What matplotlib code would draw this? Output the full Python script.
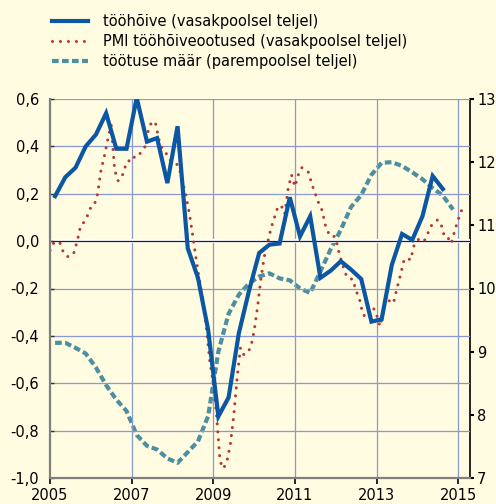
import matplotlib
matplotlib.use("Agg")
import matplotlib.pyplot as plt
from matplotlib.ticker import FuncFormatter, MultipleLocator
import numpy as np

# employment (left axis), quarterly, first quarter centred on 2005.125
emp_start, emp_step = 2005.125, 0.25
employment = [0.19, 0.27, 0.31, 0.40, 0.45, 0.54, 0.39, 0.39, 0.605, 0.42,
              0.435, 0.245, 0.485, -0.03, -0.155, -0.375, -0.74, -0.66, -0.39, -0.21,
              -0.05, -0.015, -0.01, 0.185, 0.02, 0.105, -0.155, -0.125, -0.085, -0.12,
              -0.16, -0.34, -0.33, -0.10, 0.03, 0.005, 0.105, 0.275, 0.22]

# PMI employment expectations (left axis), monthly from Jan 2005
pmi_start, pmi_step = 2005.0, 1 / 12
pmi = [-0.04, -0.01, 0.0, -0.01, -0.05, -0.065, -0.065, -0.05, 0.0, 0.065,
       0.08, 0.107, 0.143, 0.152, 0.20, 0.30, 0.36, 0.43, 0.49, 0.30,
       0.255, 0.265, 0.31, 0.34, 0.335, 0.36, 0.36, 0.38, 0.40, 0.476,
       0.505, 0.50, 0.43, 0.39, 0.375, 0.345, 0.335, 0.33, 0.31, 0.25,
       0.19, 0.115, 0.02, -0.08, -0.17, -0.26, -0.37, -0.51, -0.60, -0.74,
       -0.93, -0.96, -0.93, -0.86, -0.74, -0.58, -0.45, -0.48, -0.47, -0.45,
       -0.38, -0.28, -0.16, -0.065, -0.005, 0.055, 0.10, 0.145, 0.15, 0.115,
       0.22, 0.28, 0.23, 0.28, 0.31, 0.305, 0.29, 0.24, 0.20, 0.16,
       0.13, 0.065, 0.03, 0.03, 0.01, -0.05, -0.10, -0.14, -0.16, -0.16,
       -0.21, -0.245, -0.31, -0.32, -0.30, -0.28, -0.31, -0.36, -0.30, -0.23,
       -0.26, -0.26, -0.20, -0.145, -0.085, -0.07, -0.08, -0.02, 0.005, 0.01,
       0.0, 0.03, 0.063, 0.08, 0.09, 0.07, 0.017, 0.014, -0.01, 0.045,
       0.09, 0.13]

# unemployment rate (right axis), quarterly
unemp_start, unemp_step = 2005.125, 0.25
unemployment = [9.14, 9.14, 9.06, 8.97, 8.75, 8.47, 8.24, 8.06, 7.68, 7.51,
                7.45, 7.31, 7.24, 7.41, 7.58, 7.98, 9.0, 9.6, 9.9, 10.08,
                10.19, 10.24, 10.16, 10.13, 10.0, 9.93, 10.27, 10.62, 10.93, 11.29,
                11.48, 11.80, 11.99, 12.0, 11.94, 11.84, 11.73, 11.59, 11.47, 11.25]

labels = ["tööhõive (vasakpoolsel teljel)",
          "PMI tööhõiveootused (vasakpoolsel teljel)",
          "töötuse määr (parempoolsel teljel)"]
year_ticks = [2005, 2007, 2009, 2011, 2013, 2015]

bg = "#FFFCE1"
blue = "#0B57A4"
red = "#B23A33"
teal = "#4D8FA0"
grid_col = "#8A9AD0"

plt.rcParams["font.family"] = ["DejaVu Sans"]
plt.rcParams["font.size"] = 10.5

fig = plt.figure(figsize=(4.96, 5.04), dpi=100, facecolor=bg)
ax = fig.add_axes([50 / 496, 26 / 504, 420 / 496, 379 / 504], facecolor=bg)
ax2 = ax.twinx()

t_emp = emp_start + emp_step * np.arange(len(employment))
t_pmi = pmi_start + pmi_step * np.arange(len(pmi))
t_un = unemp_start + unemp_step * np.arange(len(unemployment))

ax.set_xlim(2005, 2015.29)
ax.set_ylim(-1.0, 0.6)
ax2.set_ylim(7, 13)

# grid
for yr in year_ticks[1:]:
    ax.axvline(yr, color=grid_col, lw=0.9, zorder=0)
for v in [-0.8, -0.6, -0.4, -0.2, 0.2, 0.4, 0.6]:
    ax.axhline(v, color=grid_col, lw=0.9, zorder=0)
ax.axhline(0, color="white", lw=3, zorder=0.5)
ax.axhline(0, color="#222222", lw=0.9, zorder=0.6)

l_pmi, = ax.plot(t_pmi, pmi, color=red, lw=2.2, linestyle=(0, (0.01, 2.6)),
                 dash_capstyle="round", zorder=2)
l_un, = ax2.plot(t_un, unemployment, color=teal, lw=3, linestyle=(0, (1.6, 0.8)),
                 dash_capstyle="butt", zorder=2)
l_emp, = ax.plot(t_emp, employment, color=blue, lw=3, solid_joinstyle="miter",
                 zorder=3)
ax.set_zorder(ax2.get_zorder() + 1)
ax.patch.set_visible(False)
ax2.patch.set_visible(True)
ax2.patch.set_facecolor(bg)

# axes styling
for s in ["top"]:
    ax.spines[s].set_visible(False)
    ax2.spines[s].set_visible(False)
ax.spines["right"].set_visible(False)
ax2.spines["left"].set_visible(False)
ax2.spines["bottom"].set_visible(False)
ax.spines["left"].set_color("#808080")
ax.spines["left"].set_linewidth(1.6)
ax.spines["bottom"].set_color("#808080")
ax.spines["bottom"].set_linewidth(1.6)
ax2.spines["right"].set_color("black")
ax2.spines["right"].set_linewidth(1.2)

ax.set_xticks(year_ticks)
ax.set_xticklabels([str(y) for y in year_ticks])
ax.yaxis.set_major_locator(MultipleLocator(0.2))
ax.yaxis.set_major_formatter(FuncFormatter(lambda v, p: f"{v:.1f}".replace(".", ",")))
ax2.set_yticks(range(7, 14))
ax.tick_params(axis="x", direction="out", length=4, width=1.2, color="black", pad=3)
ax.tick_params(axis="y", direction="in", length=3, width=1, color="#333333", pad=8)
ax2.tick_params(axis="y", direction="out", length=3, width=1.5, color="black", pad=2)

fig.legend([l_emp, l_pmi, l_un], labels, loc="upper left",
           bbox_to_anchor=(52 / 496, 1 - 14 / 504), frameon=False,
           borderpad=0, borderaxespad=0, handlelength=2.5, handletextpad=1.0,
           labelspacing=0.35, fontsize=10.5)

fig.savefig("out.png", dpi=100, facecolor=bg)
